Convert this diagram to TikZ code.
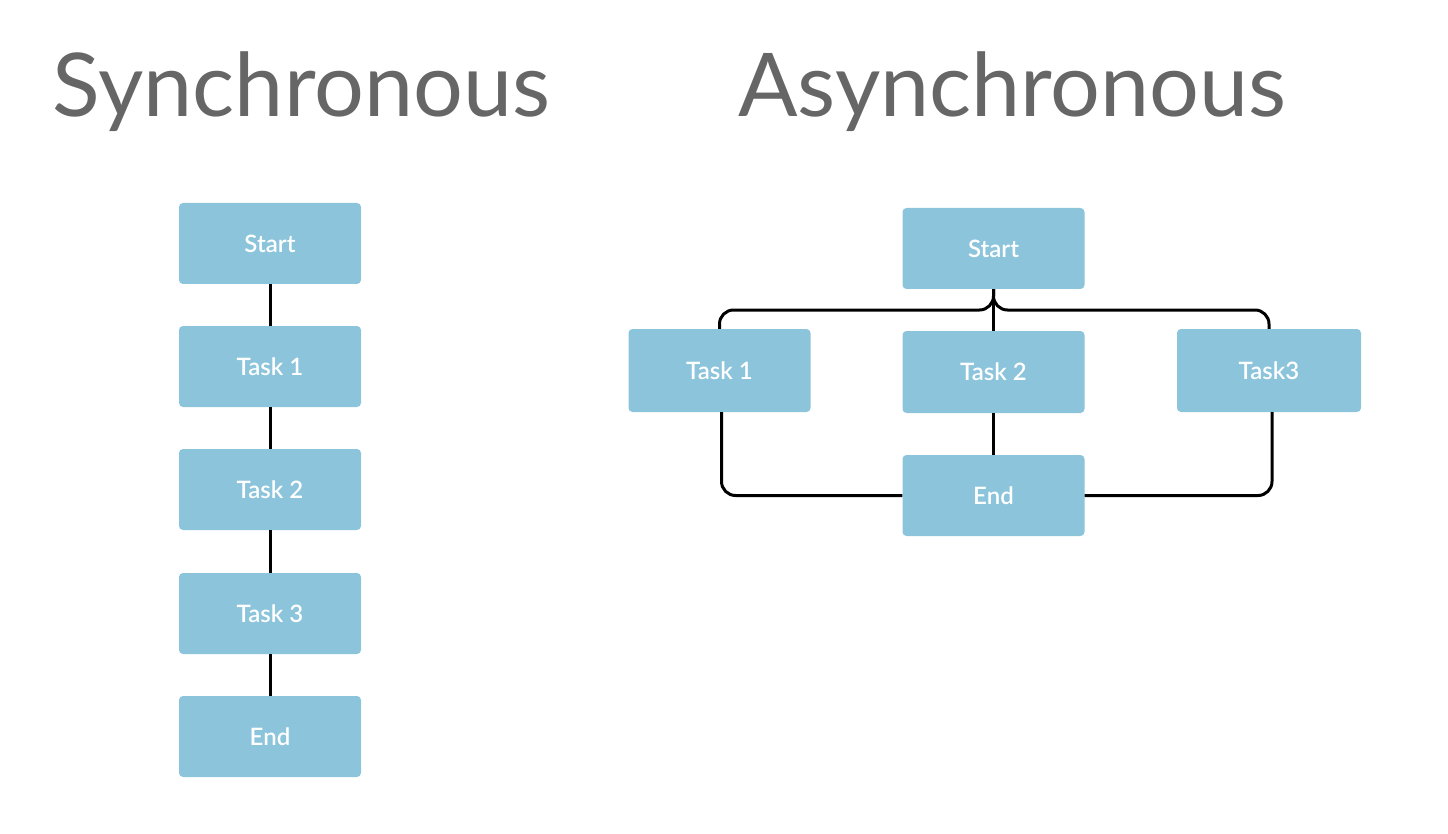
\documentclass[tikz,border=0pt]{standalone}
\usepackage{fontspec}
\setmainfont{Lato}
\newfontfamily\latosemi{Lato Semibold}
\definecolor{boxblue}{HTML}{8BC4DB}
\definecolor{titlegray}{HTML}{666666}
\tikzset{
  box/.style={fill=boxblue, draw=none, rounded corners=4pt, minimum width=182pt, minimum height=81pt, inner sep=0pt, text=white, font=\latosemi\fontsize{24}{28}\selectfont},
  title/.style={text=titlegray, font=\fontsize{88}{98}\selectfont, anchor=base, inner sep=0pt},
  conn/.style={line width=3pt, black, rounded corners=14pt}
}
\begin{document}
\begin{tikzpicture}[x=1pt,y=-1pt]
\useasboundingbox (0,0) rectangle (1448,834);
\node[title] (synt) at (301.5,117) {Synchronous};
\node[title] (asynt) at (1012.5,117) {Asynchronous};
% synchronous
\node[box] (s0) at (270,243.5) {Start};
\node[box] (s1) at (270,366.5) {Task 1};
\node[box] (s2) at (270,489.5) {Task 2};
\node[box] (s3) at (270,613.5) {Task 3};
\node[box] (s4) at (270,736.5) {End};
\draw[conn] (s0) -- (s1);
\draw[conn] (s1) -- (s2);
\draw[conn] (s2) -- (s3);
\draw[conn] (s3) -- (s4);
% asynchronous
\node[box] (a0) at (993.5,248.5) {Start};
\node[box, minimum height=83pt] (a1) at (719.5,370.5) {Task 1};
\node[box, minimum height=82pt] (a2) at (993.5,372) {Task 2};
\node[box, minimum width=184pt, minimum height=83pt] (a3) at (1269,370.5) {Task3};
\node[box] (a4) at (993.5,495.5) {End};
\coordinate (bl) at (719.5,310);
\coordinate (br) at (1269,310);
\coordinate (bm) at (993.5,310);
\draw[conn] (a0.south) -- (bm) -- (bl) -- (a1.north);
\draw[conn] (a0.south) -- (bm) -- (br) -- (a3.north);
\draw[conn] (a0.south) -- (a2.north);
\draw[conn] (a2) -- (a4);
\draw[conn] ([xshift=2pt]a1.south) |- (a4.west);
\draw[conn] ([xshift=3pt]a3.south) |- (a4.east);
\end{tikzpicture}
\end{document}
